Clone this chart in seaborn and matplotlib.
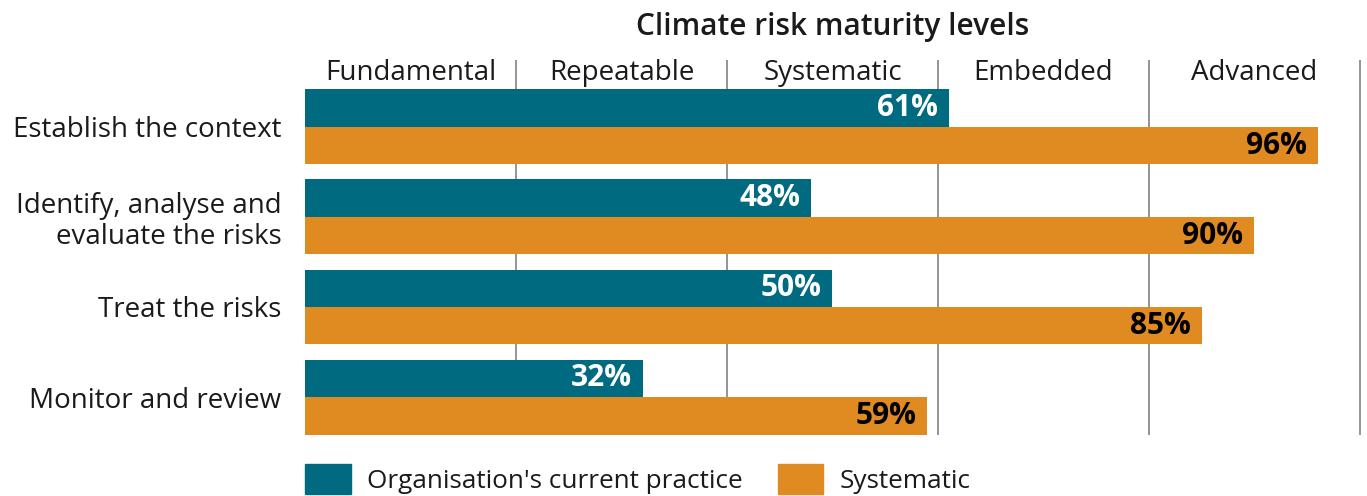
"""
Climate risk maturity: current practice vs systematic level, horizontal grouped bars
"""
import pandas as pd
import matplotlib.pyplot as plt
import matplotlib.patches as mpatches
import seaborn as sns

steps = [
    "Establish the context",
    "Identify, analyse and\nevaluate the risks",
    "Treat the risks",
    "Monitor and review",
]
current = [61, 48, 50, 32]
systematic = [96, 90, 85, 59]
series_names = ["Organisation's current practice", "Systematic"]
levels = ["Fundamental", "Repeatable", "Systematic", "Embedded", "Advanced"]
level_edges = [0, 20, 40, 60, 80, 100]

TEAL = "#006a80"
ORANGE = "#e08a22"
TEXT = "#1a1a1a"

df = pd.DataFrame(
    {
        "step": steps * 2,
        "value": current + systematic,
        "series": [series_names[0]] * len(steps) + [series_names[1]] * len(steps),
    }
)

sns.set_style("white")
plt.rcParams["font.family"] = ["Open Sans", "DejaVu Sans"]

fig = plt.figure(figsize=(13.67, 4.96), dpi=100)
W, H = 1367, 496
ax = fig.add_axes([305 / W, 1 - 435 / H, (1361 - 305) / W, (435 - 60) / H])

sns.barplot(
    data=df,
    x="value",
    y="step",
    hue="series",
    orient="h",
    palette=[TEAL, ORANGE],
    width=0.833,
    saturation=1,
    linewidth=0,
    legend=False,
    ax=ax,
    zorder=3,
)

ax.set_xlim(0, 100.1)
ax.set_ylim(3.422, -0.744)
ax.set_xticks(level_edges[1:])
ax.xaxis.grid(True, color="#777777", linewidth=1.1, zorder=0)
ax.tick_params(axis="x", length=0, labelbottom=False)
ax.tick_params(axis="y", length=0, pad=17)
for lab in ax.get_yticklabels():
    lab.set_fontsize(20)
    lab.set_color(TEXT)
    lab.set_linespacing(1.12)
ax.set(xlabel="", ylabel="", axisbelow=True)
sns.despine(ax=ax, left=True, bottom=True)

# maturity level names across the top
for i, name in enumerate(levels):
    mid = (level_edges[i] + level_edges[i + 1]) / 2
    ax.text(mid, 0.965, name, transform=ax.get_xaxis_transform(),
            ha="center", va="center", fontsize=20, color=TEXT)

# value labels at bar ends
for cont, col in zip(ax.containers, ["white", "black"]):
    for p in cont:
        ax.annotate(f"{p.get_width():.0f}%",
                    (p.get_width(), p.get_y() + p.get_height() / 2),
                    xytext=(-8, 0), textcoords="offset points",
                    ha="right", va="center", fontsize=21.5, fontweight="bold",
                    color=col, zorder=5)

fig.text(833 / W, 1 - 27 / H, "Climate risk maturity levels", ha="center",
         va="center", fontsize=21.5, fontweight="semibold", color=TEXT)

handles = [mpatches.Patch(color=TEAL), mpatches.Patch(color=ORANGE)]
leg = fig.legend(handles, series_names, loc="center left",
                 bbox_to_anchor=(305 / W, 1 - 479 / H), ncol=2, frameon=False,
                 fontsize=18.8, handlelength=1.75, handleheight=1.35,
                 handletextpad=0.62, columnspacing=1.35, borderpad=0,
                 borderaxespad=0)
for t in leg.get_texts():
    t.set_color(TEXT)

fig.savefig("out.png", dpi=100)
